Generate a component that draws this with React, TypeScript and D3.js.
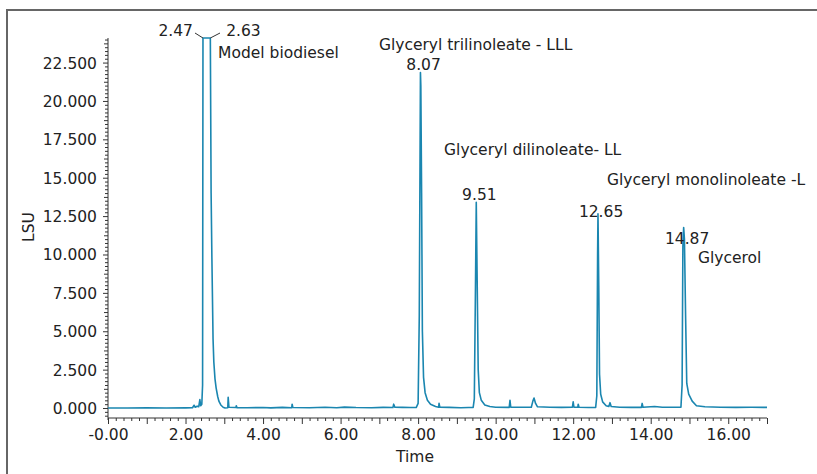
import React, { useEffect, useRef } from 'react';
import * as d3 from 'd3';

// chromatogram trace (time in min, signal in thousand LSU)
const traceTime = [
  0.0, 0.5, 1.0, 1.5, 2.0, 2.18, 2.22, 2.25, 2.3, 2.34, 2.37, 2.39, 2.42, 2.44, 2.45, 2.64, 2.66, 2.68, 2.71, 2.73,
  2.76, 2.79, 2.83, 2.86, 2.91, 2.97, 3.02, 3.09, 3.1, 3.12, 3.3, 3.31, 3.33, 3.6, 4.0, 4.2, 4.5, 4.74, 4.75, 4.77,
  5.2, 5.6, 5.9, 6.1, 6.4, 6.8, 7.1, 7.35, 7.37, 7.4, 7.6, 7.8, 7.95, 8.0, 8.03, 8.06, 8.07, 8.09, 8.11, 8.14,
  8.18, 8.24, 8.32, 8.45, 8.53, 8.54, 8.56, 8.8, 9.1, 9.3, 9.42, 9.45, 9.48, 9.5, 9.52, 9.55, 9.58, 9.63, 9.72, 9.85,
  10.0, 10.35, 10.37, 10.39, 10.7, 10.92, 10.96, 10.99, 11.03, 11.08, 11.4, 11.7, 11.98, 12.0, 12.02, 12.12, 12.13, 12.15, 12.4, 12.58,
  12.61, 12.63, 12.64, 12.66, 12.68, 12.71, 12.76, 12.85, 12.92, 12.95, 12.98, 13.2, 13.5, 13.76, 13.78, 13.8, 14.1, 14.3, 14.6, 14.78,
  14.81, 14.83, 14.85, 14.87, 14.9, 14.93, 14.98, 15.07, 15.18, 15.4, 15.8, 16.2, 16.6, 17.0,
];
const traceLsu = [
  0.0, 0.0, 0.01, 0.0, 0.01, 0.02, 0.18, 0.05, 0.12, 0.08, 0.55, 0.15, 0.25, 1.5, 24.1, 24.1, 14.0, 9.8, 4.5, 3.0,
  1.9, 1.3, 0.75, 0.45, 0.2, 0.05, 0.0, 0.02, 0.7, 0.05, 0.03, 0.15, 0.02, 0.02, 0.03, 0.01, 0.04, 0.02, 0.25, 0.03,
  0.02, 0.05, 0.02, 0.06, 0.03, 0.02, 0.04, 0.03, 0.25, 0.05, 0.04, 0.03, 0.03, 0.3, 6, 21.85, 21.0, 14, 5, 2.0,
  1.0, 0.5, 0.25, 0.1, 0.05, 0.3, 0.05, 0.04, 0.02, 0.03, 0.04, 0.6, 8, 13.4, 9, 2.5, 1.0, 0.5, 0.2, 0.1,
  0.05, 0.04, 0.5, 0.05, 0.05, 0.05, 0.45, 0.65, 0.3, 0.08, 0.05, 0.04, 0.05, 0.4, 0.05, 0.05, 0.25, 0.05, 0.03, 0.04,
  0.8, 10, 12.65, 8, 2.2, 0.9, 0.4, 0.15, 0.1, 0.35, 0.1, 0.05, 0.04, 0.04, 0.3, 0.05, 0.1, 0.05, 0.05, 0.05,
  1.5, 10.5, 11.75, 11.0, 6, 1.6, 0.9, 0.45, 0.15, 0.08, 0.05, 0.04, 0.05, 0.04,
];

// retention time labels: [text, time, lsu of baseline, anchor]
const rtLabels: [string, number, number, string][] = [
  ['2.47', 2.19, 24.2, 'end'],
  ['2.63', 3.05, 24.2, 'start'],
  ['8.07', 8.14, 22.0, 'middle'],
  ['9.51', 9.58, 13.55, 'middle'],
  ['12.65', 12.72, 12.45, 'middle'],
  ['14.87', 14.94, 10.7, 'middle'],
];

// compound names: [text, time of left edge, lsu of baseline]
const compoundLabels: [string, number, number][] = [
  ['Model biodiesel', 2.84, 22.8],
  ['Glyceryl trilinoleate - LLL', 6.99, 23.35],
  ['Glyceryl dilinoleate- LL', 8.67, 16.45],
  ['Glyceryl monolinoleate -L', 12.87, 14.55],
  ['Glycerol', 15.22, 9.45],
];

const yMajor = [0, 2.5, 5, 7.5, 10, 12.5, 15, 17.5, 20, 22.5];
const xLabelTicks = [0, 2, 4, 6, 8, 10, 12, 14, 16];

const W = 817;
const H = 474;
const FONT = '"DejaVu Sans", Verdana, sans-serif';
const LINE = '#1a86b0';
const INK = '#222';

export default function App() {
  const gx = useRef<SVGGElement>(null);
  const gy = useRef<SVGGElement>(null);

  const x = d3.scaleLinear().domain([0, 17]).range([108, 767]);
  const y = d3.scaleLinear().domain([-0.65, 24.1]).range([418, 38]);

  const pts = traceTime.map((t, i) => [t, traceLsu[i]] as [number, number]);
  const line = d3.line<[number, number]>().x(d => x(d[0])).y(d => y(d[1]));

  useEffect(() => {
    // x axis: minor 0.2, major 1, labels every 2
    const xa = d3.select(gx.current!);
    xa.selectAll('*').remove();
    const xMinor = d3.range(0, 17.001, 0.2);
    xa.call(d3.axisBottom(x).tickValues(xMinor).tickSize(3).tickFormat(() => '') as any);
    xa.selectAll('.tick line')
      .attr('y2', (d: any) => (Math.abs(d - Math.round(d)) < 1e-6 ? 6 : 3));
    xa.selectAll('.tick').filter((d: any) => !xLabelTicks.some(v => Math.abs(v - d) < 1e-6)).select('text').remove();
    xa.selectAll('.tick text')
      .text((d: any) => (d === 0 ? '-0.00' : d3.format('.2f')(d)))
      .attr('y', 11);
    xa.select('.domain').attr('d', `M${x(0)},0H${x(17)}`);
    xa.selectAll('line, path').attr('stroke', '#333');
    xa.selectAll('text').attr('fill', INK).style('font-family', FONT).style('font-size', '15.5px');

    // y axis: minor 0.25, medium 1.25, major 2.5
    const ya = d3.select(gy.current!);
    ya.selectAll('*').remove();
    const yMinor = d3.range(-0.5, 24.01, 0.25).map(v => Math.round(v * 100) / 100);
    ya.call(d3.axisLeft(y).tickValues(yMinor).tickSize(3).tickFormat(() => '') as any);
    ya.selectAll('.tick line').attr('x2', (d: any) => {
      if (yMajor.some(v => Math.abs(v - d) < 1e-6)) return -5;
      if (Math.abs(d / 1.25 - Math.round(d / 1.25)) < 1e-6) return -4;
      return -3;
    });
    ya.selectAll('.tick').filter((d: any) => !yMajor.some(v => Math.abs(v - d) < 1e-6)).select('text').remove();
    ya.selectAll('.tick text').text((d: any) => d3.format('.3f')(d)).attr('x', -11).attr('dy', '0.35em');
    ya.select('.domain').attr('d', `M0,${y(24.1)}V${y(-0.65) + 2}`);
    ya.selectAll('line, path').attr('stroke', '#333');
    ya.selectAll('text').attr('fill', INK).style('font-family', FONT).style('font-size', '15.5px');
  }, []);

  const topY = y(24.1);
  return (
    <svg width={W} height={H} style={{ position: 'absolute', left: 0, top: 0, background: '#fff' }}>
      <rect x={7} y={10} width={W + 20} height={H + 20} fill="none" stroke="#666" strokeWidth={2} />
      <g ref={gy} transform={`translate(${x(0)},0)`} />
      <g ref={gx} transform={`translate(0,${y(-0.65)})`} />
      <path d={line(pts) || ''} fill="none" stroke={LINE} strokeWidth={1.6} strokeLinejoin="round" />
      {/* connectors from the two overlapping retention labels */}
      <path d={`M195,${topY - 5}L${x(2.45)},${topY}`} stroke="#333" fill="none" />
      <path d={`M${x(2.64)},${topY}L220,${topY - 5}`} stroke="#333" fill="none" />
      <g fill={INK} style={{ fontFamily: FONT, fontSize: 15.5 }}>
        {rtLabels.map(([t, tm, v, a]) => (
          <text key={t} x={x(tm)} y={y(v)} textAnchor={a as any}>{t}</text>
        ))}
        {compoundLabels.map(([t, tm, v]) => (
          <text key={t} x={x(tm)} y={y(v)}>{t}</text>
        ))}
        <text x={415} y={462} textAnchor="middle">Time</text>
        <text transform="translate(34,227) rotate(-90)" textAnchor="middle">LSU</text>
      </g>
    </svg>
  );
}
